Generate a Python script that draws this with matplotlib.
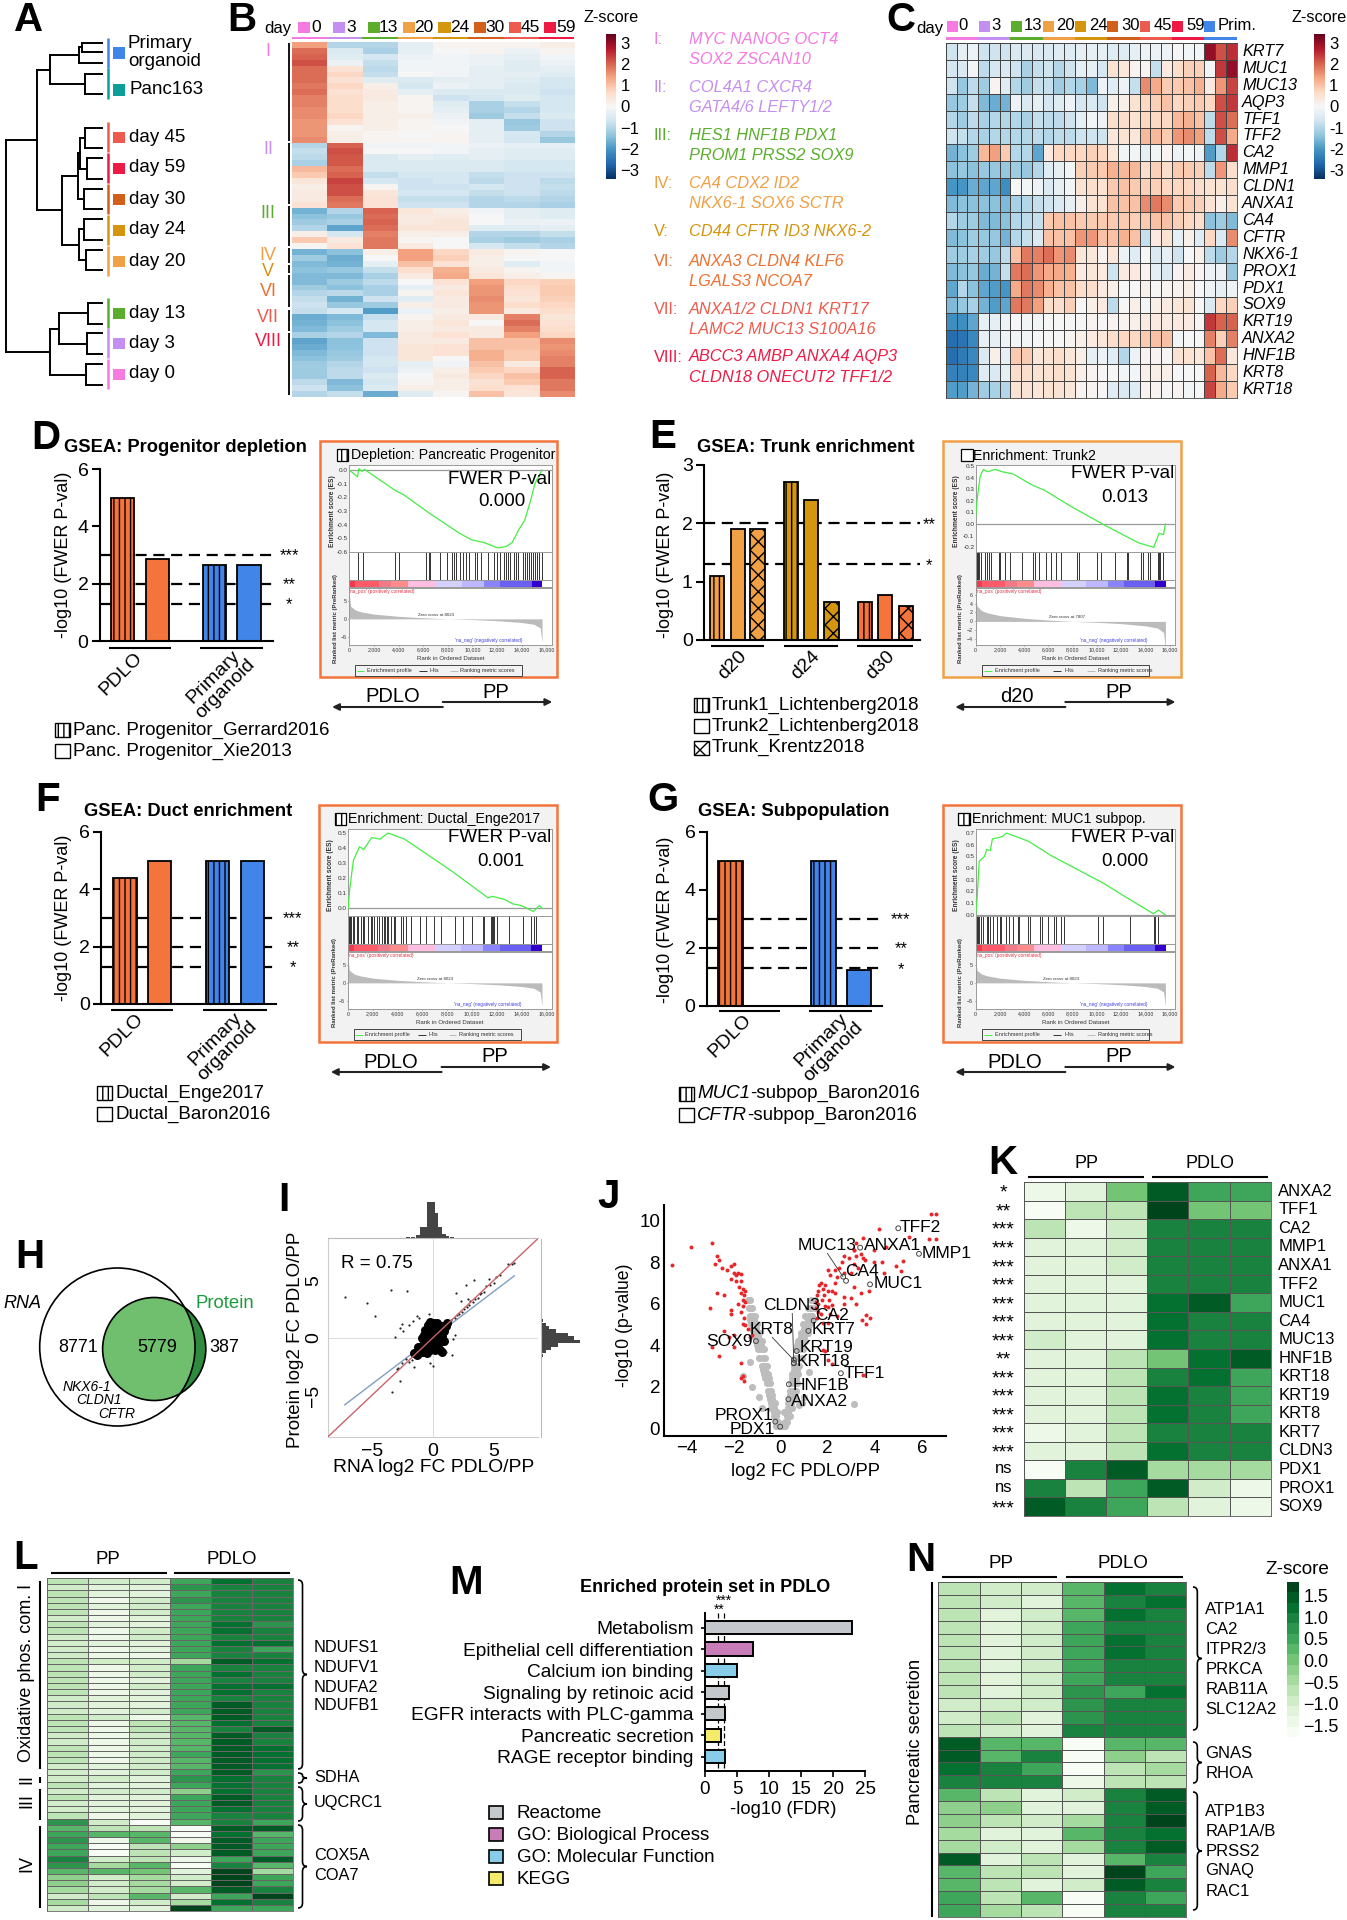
import numpy as np
import matplotlib
matplotlib.use('Agg')
import matplotlib.pyplot as plt
from matplotlib.patches import Rectangle, Ellipse, PathPatch
from matplotlib.path import Path

plt.rcParams['font.family'] = ['Liberation Sans', 'DejaVu Sans']
plt.rcParams['hatch.linewidth'] = 1.0

W, H = 1347, 1920

# colours of the conditions
C_DAY = ['#F57BE0', '#C48FF0', '#5BAD2E', '#F0A045', '#D4950F', '#D2601A', '#EC5B4E', '#EE1A45']
C_PRIM = '#4285E8'
C_PANC = '#0E9E9A'
C_ORANGE = '#F4743B'
DAY_NAMES = ['0', '3', '13', '20', '24', '30', '45', '59']

# panel A: dendrogram
leaf_pos = [43, 51.7, 63.3, 74, 94.3, 127.7, 148.3, 158.3, 179, 189, 209.3, 219, 239.7, 250, 270,
            302.7, 323.7, 333.3, 354.3, 364, 385]
tree = (5,
        (30,
         (40.7, (64, (66.7, 0, 1), 2), (69.3, 3, 4)),
         (50.7,
          (63.3, (65, (69.3, 5, 6), (71, 7, 8)), (68.3, 9, 10)),
          (64.3, (68.3, 11, 12), (70, 13, 14)))),
        (40.7, (47.7, (71.7, 15, 16), (71, 17, 18)), (70, 19, 20)))
a_names = ['day 45', 'day 59', 'day 30', 'day 24', 'day 20', 'day 13', 'day 3', 'day 0']
a_colors = [C_DAY[6], C_DAY[7], C_DAY[5], C_DAY[4], C_DAY[3], C_DAY[2], C_DAY[1], C_DAY[0]]

# panel B: clustered expression, one row per band and one column per day
b_clusters = ['I', 'II', 'III', 'IV', 'V', 'VI', 'VII', 'VIII']
b_matrix = [
    [1.4, -1, -1, -0.3, 0.1, 0.1, 0.1, 0.2],
    [1.9, -0.5, -1.1, -0.3, 0, 0.1, -0.2, 0.1],
    [2.0, -0.4, -0.6, -0.2, -0.1, -0.2, -0.3, -0.1],
    [2.2, -0.2, -0.8, -0.1, -0.1, -0.2, -0.4, -0.2],
    [1.9, 0.5, -0.9, -0.1, -0.1, -0.3, -0.4, -0.3],
    [1.9, 0.7, -0.8, 0, -0.1, -0.3, -0.3, -0.4],
    [1.9, 0.5, -0.4, -0.5, -0.3, -0.3, -0.4, -0.6],
    [1.8, 0.7, 0.2, -0.6, -0.2, -0.3, -0.5, -0.6],
    [1.9, 0.5, 0.3, -0.3, -0.5, -0.5, -0.5, -0.7],
    [1.7, 0.6, 0.3, 0.1, -0.7, -0.6, -0.4, -0.6],
    [1.7, 0.6, 0.2, 0.1, -0.4, -1.1, -0.8, -0.6],
    [1.6, 0.6, 0.2, 0.1, -0.3, -1.1, -1, -0.6],
    [1.6, 0.7, 0.2, 0.2, -0.2, -1.2, -0.8, -0.5],
    [1.5, 0.5, 0.2, 0.1, -0.1, -0.3, -1.3, -0.7],
    [1.5, 0.1, 0.2, 0.1, 0, -0.3, -1.2, -0.7],
    [1.5, 0.2, 0.1, 0, 0.1, -0.3, -0.6, -1.0],
    [1.6, 0.2, 0.1, 0.1, 0.1, -0.3, -0.6, -1.3],
    [-1, 2, -0.1, -0.1, -0.1, -0.2, -0.3, -0.3],
    [-0.8, 2.2, 0, 0, -0.1, -0.3, -0.4, -0.4],
    [-0.9, 2.1, -0.5, -0.3, -0.4, -0.3, -0.4, -0.4],
    [-1.1, 2.1, -0.5, -0.5, -0.5, -0.5, -0.6, -0.6],
    [1.1, 1.9, -0.5, -0.5, -0.5, -0.5, -0.6, -0.6],
    [0.9, 2, -0.8, -0.6, -0.6, -0.8, -0.7, -0.7],
    [0.4, 2.3, -0.6, -0.7, -0.6, -0.9, -0.7, -0.9],
    [0.2, 2.2, 0.1, -0.7, -0.7, -0.6, -0.7, -0.8],
    [0.3, 2.2, 0.4, -0.6, -0.6, -0.8, -0.7, -0.9],
    [0.3, 1.9, 0.5, -0.8, -0.8, -1.0, -0.9, -1],
    [0.5, 1.8, 0.5, -0.7, -0.7, -1, -1, -1.1],
    [-1.6, -1, 2, 0.4, 0.2, -0.1, -0.3, -0.4],
    [-1.4, -1.3, 1.9, 0.3, 0.3, 0, -0.3, -0.4],
    [-1.2, -1.1, 2, 0.3, 0.4, 0, -0.2, -0.2],
    [-1, -1.8, 1.9, 0.4, 0.4, -0.4, -0.4, -0.3],
    [0.2, -0.6, 1.7, 0.2, 0.2, -1, -1, -0.8],
    [0.9, 0.3, 1.8, 0.1, 0, -1.1, -1.2, -1.1],
    [0.1, 0.5, 1.8, 0.3, 0, -0.6, -0.8, -1],
    [-1.6, -1.4, 0.2, 1.4, 0.7, 0.3, 0.1, 0],
    [-1.2, -1.7, 0, 1.4, 0.8, 0.2, 0, 0],
    [-1.5, -1.6, -0.3, 1.0, 0.5, 0.2, -0.4, -0.1],
    [-1.4, -1.3, -0.8, 0.6, 1.2, 0.3, 0.1, -0.1],
    [-1.5, -1.5, -1.1, 0.3, 1.3, 0.4, 0.2, 0.1],
    [-1.5, -1.2, -0.9, 0, 0.5, 1.4, 0.7, 0.8],
    [-1.2, -1.4, -1.1, -0.3, 0.3, 1.5, 0.6, 0.9],
    [-1, -0.9, -1.1, 0.1, 0.4, 1.5, 0.5, 0.9],
    [-0.8, -1.6, -0.7, -0.4, 0.3, 1.6, 0.4, 0.8],
    [-0.7, -1.3, -1.2, 0.2, 0.3, 1.5, 0.6, 0.7],
    [-0.8, -0.6, -1.9, -0.2, 0.2, 1.5, 0.3, 0.6],
    [-1.7, -1.5, -0.8, 0.1, 0.3, 0.3, 1.7, 0.4],
    [-1.6, -1.4, -0.6, 0.2, 0.4, 0, 1.9, 0.5],
    [-1.5, -1.2, -0.6, 0.2, 0.3, 0.3, 1.7, 0.6],
    [-1.1, -1, -1.5, 0.3, 0.5, 0.3, 1.4, 0.7],
    [-1.8, -1.4, -0.7, 0.3, 0.3, 1, 1, 1.6],
    [-1.7, -1.4, -0.7, 0.4, 0.5, 1, 1, 1.5],
    [-1.5, -1.3, -0.7, 0.4, 0.5, 1.2, 0.9, 1.6],
    [-1.4, -1.2, -0.6, 0.4, 0, 1.2, 0.9, 1.7],
    [-1.2, -1, -0.6, -0.3, -0.1, 1, 0.3, 1.7],
    [-1.2, -0.9, -0.7, -0.2, 0.2, 0.9, 0.7, 2],
    [-1.2, -0.9, -0.5, 0, 0.3, 0.7, 1, 2],
    [-0.9, -1.5, -0.6, 0.1, 0.2, 0.5, 0.9, 1.8],
    [-0.7, -1.4, -0.5, 0.2, 0.2, 0.6, 0.5, 1.8],
    [-1, -0.8, -1.7, -0.4, 0.1, 1, 0.4, 1.6],
]
gene_sets = [
    ['MYC NANOG OCT4', 'SOX2 ZSCAN10'],
    ['COL4A1 CXCR4', 'GATA4/6 LEFTY1/2'],
    ['HES1 HNF1B PDX1', 'PROM1 PRSS2 SOX9'],
    ['CA4 CDX2 ID2', 'NKX6-1 SOX6 SCTR'],
    ['CD44 CFTR ID3 NKX6-2'],
    ['ANXA3 CLDN4 KLF6', 'LGALS3 NCOA7'],
    ['ANXA1/2 CLDN1 KRT17', 'LAMC2 MUC13 S100A16'],
    ['ABCC3 AMBP ANXA4 AQP3', 'CLDN18 ONECUT2 TFF1/2'],
]
set_colors = [C_DAY[0], C_DAY[1], C_DAY[2], C_DAY[3], C_DAY[4], '#EE7030', C_DAY[6], C_DAY[7]]

# panel C
c_genes = ['KRT7', 'MUC1', 'MUC13', 'AQP3', 'TFF1', 'TFF2', 'CA2', 'MMP1', 'CLDN1', 'ANXA1', 'CA4',
           'CFTR', 'NKX6-1', 'PROX1', 'PDX1', 'SOX9', 'KRT19', 'ANXA2', 'HNF1B', 'KRT8', 'KRT18']
c_matrix = [
    [-0.7, -0.3, -0.2, -0.7, -0.7, -0.7, -0.5, -0.5, -0.5, -0.5, -0.4, -0.4, -0.3, -0.3, -0.3, -0.4, -0.4, -0.3, -0.2, -0.2, -0.2, 0, -0.1, -0.1, 3, 2.2, 2.5],
    [-0.6, -0.5, -0.1, -0.9, -0.6, -0.5, -0.7, -1.1, -0.8, -0.7, -1, -0.7, -0.3, -0.3, -0.6, 0.5, 0.4, 0.1, 0.1, -0.8, 0.3, 0.6, 0.8, 0.8, -0.1, 2.4, 3],
    [-0.7, -1.3, -0.9, -1.2, 0.1, -0.4, -1, -1.2, -0.8, -0.8, -1.2, -1, -1.1, -1.5, -0.2, -0.4, -0.2, -0.8, 1.6, 1.3, 0.9, 0.9, 1, 1.2, 0.3, 1.5, 2.3],
    [-1.3, -1.2, -0.8, -1.5, -1.7, -1.6, -0.2, -0.5, -0.3, -0.6, -0.4, -0.2, -0.6, -0.5, -0.7, 0.2, 0.2, 0.5, 0.7, 0.8, 1, 0.7, 0.8, 0.9, 0.7, 2.2, 2.4],
    [-1, -1.2, -0.9, -1.1, -1, -1, -1, -1.1, -0.8, -0.9, -0.9, -0.7, -0.3, -0.1, -0.2, 0.6, 0.6, 0.5, 0.7, 0.7, 0.7, 1.1, 1.2, 1, -0.9, 2.2, 1.9],
    [-0.7, -0.8, -1, -1.1, -1, -1, -1, -1, -0.9, -1, -0.9, -0.9, -0.7, -0.7, -0.7, 0.4, 0.5, 0.4, 1.1, 1.1, 0.9, 1.5, 1.6, 1.4, -0.9, 2.2, 1.3],
    [-1.6, -1.4, -1.2, 1.1, 1.4, 0.9, -1, -1, -1.8, 0.3, 0.7, 0.7, 0.7, 0.8, 0.7, 0.4, -0.1, -0.1, -0.3, -0.1, 0.1, -0.2, -0.1, -0.2, -1.9, -1, 2.5],
    [-1.4, -1.3, -1.4, -1.3, -1.3, -1.3, -1.2, -1.3, -1, -0.4, -0.3, -0.1, 0.8, 0.9, 0.9, 1.2, 1.1, 1.1, 0.6, 0.8, 0.6, 0.9, 0.9, 0.8, -0.9, 1.5, 0.6],
    [-2, -2, -1.7, -1.8, -1.8, -2.1, 0, -0.1, -0.2, -0.5, -0.3, -0.1, 0.5, 0.6, 0.5, 0.9, 1, 0.9, 0.8, 0.8, 0.7, 0.7, 0.7, 0.6, 0.5, 0.5, 0.6],
    [-1.5, -1.4, -1.4, -1.4, -1.4, -1.5, -1.1, -1, -0.8, -0.7, -0.5, -0.3, 0.2, 0.5, 0.5, 1, 1, 1, 1.6, 1.8, 1.6, 0.9, 0.9, 0.8, 0.5, 0.2, 0.5],
    [-1, -1.2, -1.2, -1.5, -1.5, -1.4, -1, -0.9, -0.8, 0.9, 1, 1, 0.9, 0.9, 0.9, 0.9, 0.9, 0.8, 0.9, 1, 1, 0.8, 0.7, 0.6, -1.4, -1.2, -1.5],
    [-1.5, -1.4, -1.2, -1.3, -1.3, -1.6, -1, -0.8, -0.5, 1, 1, 1, 1.5, 1.5, 1, 1, 1.2, 1, -0.8, 0.3, 0.5, -0.3, 0.2, -0.4, 0.7, -0.5, 1.6],
    [-1.2, -1.2, -1.1, -1.2, -1.3, -0.9, 1, 1.8, 1.7, 1.9, 1.5, 1.6, 0.4, 0.4, 0.1, 0.4, -0.2, -0.4, 0, -0.5, -0.3, -0.7, 0, 0.2, -0.9, -1.2, -1],
    [-1.5, -1.4, -1.3, -1.7, -1.6, -0.8, 1.8, 1.9, 1.5, 1.3, 1.3, 1.2, 0.3, 0.4, 0.3, -0.7, 0.3, 0.3, 0.1, -0.3, -0.5, 0.1, 0.3, 0.1, -0.2, -0.2, -1.3],
    [-1.8, -1, -1.4, -1.8, -1.9, -2, 1.3, 1.8, 1.6, 1.2, 1, 1, 0.6, 0.6, 0.3, 0.2, 0, 0, 0.2, 0, 0.1, 0.1, 0.2, 0, -0.2, -0.3, -0.2],
    [-1.5, -1.3, -1.1, -1.6, -1.9, -1.8, 1.8, 1.8, 1.4, 0.6, 0.6, 0.8, 0, 0.2, 0.3, -0.9, 0, 0.2, -0.1, 0.2, 0.3, 0.4, 0.5, 0, -0.5, 0.7, 0.8],
    [-2.1, -2.1, -1.8, -0.3, -0.3, -0.2, 0, -0.1, -0.1, 0, 0, 0, 0, 0.1, 0, 0.1, 0.1, 0.2, 0.3, 0.3, 0.3, 0.3, 0.3, 0.1, 2.4, 2, 2],
    [-2.6, -2.5, -2.2, -0.3, -0.3, -0.2, -0.1, -0.1, 0, 0, 0, 0.1, 0.2, 0.3, 0.4, 0.6, 0.7, 0.7, 0.9, 1, 1, -0.1, 0, 0, 1.7, 0.8, 1.7],
    [-2.6, -2.4, -2.2, -0.5, 0.2, -0.3, 0.9, 0.9, 0.4, 0.5, 0.6, 0.4, 0.2, -0.3, -0.2, -0.4, -1, -0.2, 0.1, 0.1, 0, 0.5, 0.5, 0.4, 1, 1.9, 0.4],
    [-2.3, -2.3, -2.2, -0.4, -0.5, -0.3, 0.6, 0.6, 0.5, 0.5, 0.6, 0.5, 0.2, 0.1, 0, 0, -0.1, -0.1, 0.2, 0.2, 0.2, 0, 0, 0, 2, 1.1, 0.7],
    [-1.9, -1.9, -1.6, -1.2, -1.1, -1, 0.5, 0.5, 0.4, 0.5, 0.5, 0.4, 0.1, 0.1, 0, -0.4, -0.5, -0.4, 0.1, 0.1, 0, 0.1, -0.1, 0, 2.3, 1.3, 0.9],
]

# panels D-G: bars
d_vals = [5, 2.85, 2.65, 2.65]
e_vals = [1.1, 1.9, 1.9, 2.7, 2.4, 0.65, 0.65, 0.77, 0.58]
f_vals = [4.4, 5, 5, 5]
g_vals = [5, 0, 5, 1.25]

# GSEA running enrichment curves, hits and ranked metric
d_rank = [0, 667, 767, 1033, 1233, 3733, 4400, 6567, 8900, 9900, 10900, 12067, 12733, 13233, 13733, 14233, 14733, 15067, 15633]
d_es = [0, -.05, .01, -.01, .005, -.15, -.18, -.32, -.46, -.51, -.53, -.57, -.56, -.53, -.44, -.37, -.22, -.10, 0]
d_hits = [670, 1130, 3730, 4070, 6230, 6430, 6570, 7330, 7900, 8330, 8500, 8670, 8970, 9230, 9500, 9730, 10230, 10400, 10730,
          11230, 11730, 11970, 12230, 12570, 12730, 12900, 13070, 13400, 13570, 13730, 14070, 14230, 14400, 14570, 14730,
          14900, 15070, 15230, 15400, 15630]
e_rank = [0, 110, 370, 630, 990, 1580, 2200, 3110, 4580, 5690, 7890, 10650, 12490, 13400, 14690, 15130, 15500, 15650]
e_es = [.06, .2, .41, .47, .45, .47, .45, .43, .34, .29, .15, -.01, -.11, -.16, -.2, -.08, -.09, 0]
e_hits = [40, 80, 120, 160, 200, 260, 400, 760, 960, 1100, 1300, 1900, 2000, 2400, 2800, 3800, 4700, 4900, 5200, 5800, 6200,
          6600, 7000, 8400, 8500, 10000, 10300, 11500, 12500, 12600, 13600, 13800, 14200, 14400, 15000, 15100, 15200, 15450]
f_rank = [0, 130, 430, 930, 1250, 1900, 2570, 3230, 4550, 6360, 8500, 11300, 11650, 12640, 13300, 13960, 14950, 15440, 15670]
f_es = [0, .13, .32, .41, .39, .47, .46, .5, .46, .36, .24, .07, .08, .06, .03, .02, -.02, .02, 0]
f_hits = [60, 120, 190, 250, 360, 500, 700, 800, 1030, 1200, 1300, 1600, 1850, 1950, 2100, 2300, 2500, 2700, 2900, 3000, 3150,
          3250, 3500, 3700, 3800, 4250, 4450, 4700, 5100, 5800, 6300, 6900, 7500, 8600, 9300, 10000, 10900, 11000, 11500,
          11600, 11700, 11800, 12000, 13000, 14100, 14800, 15000, 15150]
g_rank = [0, 110, 290, 730, 910, 1200, 1380, 1820, 2180, 2550, 4360, 6180, 8360, 10550, 12730, 14660, 15090, 15640]
g_es = [0, .12, .46, .5, .56, .55, .65, .66, .67, .7, .63, .51, .39, .27, .13, .01, .04, 0]
g_hits = [80, 130, 200, 300, 400, 600, 900, 1050, 1150, 1400, 1800, 2000, 2100, 2500, 2750, 3100, 3500, 3600, 4300, 4500, 5300,
          5500, 6000, 6500, 6600, 7000, 7300, 10100, 10500, 12700, 14700, 14800, 15000]
metric_rank = [0, 100, 500, 1000, 2000, 4000, 6000, 8023, 10000, 12000, 14000, 15000, 15500, 15650]
metric_vals = [7, 3.5, 2.4, 1.9, 1.3, .7, .3, 0, -.2, -.5, -1, -1.5, -2.5, -6.5]
strip_edges = [0, 500, 2400, 3400, 4800, 7000, 9130, 10900, 12230, 14800, 15660]
strip_colors = ['#EF3B4B', '#FF5A6A', '#F0798A', '#FF8C8C', '#FFBDE0', '#D4D0FF', '#BDB8FF', '#8A85FF', '#6A5FF0', '#3300CC']

# panel I
blob_x = [-1.0, -0.8, -0.6, -0.8, -0.5, -0.2, -0.3, 0, 0.2, 0.3, 0.6, 0.8, 0.5, -0.6, -0.9, -0.3, 0, 0.3, 0.6, 0.9, -0.7, -0.4,
          -0.1, 0.2, 0.5, 0.8, -0.6, -0.3, 0, 0.3, 0.6, 0.9, -0.4, -0.1, 0.2, 0.5, 0.8, -0.2, 0.1, 0.4, -0.5, -1.2, -1.5, -1.3, -1.1, 1.1, 1.2]
blob_y = [-1.0, -1.2, -1.1, -0.6, -0.7, -1.0, -0.5, -0.8, -1.0, -0.6, -1, -1.2, -0.4, -0.2, 0, -0.1, -0.2, -0.1, 0, -0.3, 0.3, 0.3,
          0.2, 0.2, 0.3, 0.2, 0.7, 0.7, 0.6, 0.6, 0.7, 0.6, 1.1, 1.0, 1.0, 1, 1, 1.4, 1.3, 1.3, -1.3, -0.8, -1.3, -1.5, -1.3, 1.0, 1.3]
sparse_x = [-7.2, -3.4, -2.1, -5.4, -4.7, 3.4, 1.9, 2.7, -1.3, -1.1, -0.3, -2.5, -2.4, -3.1, -2.7, -1.9, -1.6, 1.1, 1.6, 1.7, 1.8, 0,
            -.2, -3.3, -2.7, -2.8, -2.5, -1.9, -1.5, -1.7, -2.2, -2.9, 1.5, 1.8, 2, 2.2, 2.4, 2.6, 2.8, 3, 3.1, 3.3, 3.5, 3.7, 3.9,
            4, 4.2, 4.4, 4.7, 5, 5.2, 5.5, 6.2, 6.5, 6.7, 2.3, 2.9, 4.6]
sparse_y = [3.6, 4.2, 4.05, 3, 1.95, 5.0, 3.9, 4.6, 1.9, 1.7, 2.1, 1.2, 0.6, 0.1, .9, 1.1, 1.5, -1.2, -1.5, -.1, .3, -2.4,
            -2.2, -4.7, -3.7, -2.6, -2.2, -2.1, -2.5, -1.9, -1.8, -2.7, 1.6, 1.7, 2, 2.1, 2.3, 2.5, 2.7, 2.9, 3.2, 3.1, 3.4, 3.5, 3.8,
            3.9, 4, 4.5, 4.6, 4.8, 5.3, 5.5, 6.4, 6.4, 6.5, 3.2, 3.4, 5.1]
fit_x = [-7.2, 6.7]
fit_y = [-5.8, 5.4]
top_bins = [-2, -1.6, -1.2, -0.9, -0.6, -0.3, 0, 0.3, 0.6, 0.9, 1.2, 1.6, 2]
top_counts = [2, 4, 8, 30, 30, 100, 100, 70, 30, 10, 5, 3, 1]
right_bins = [1.5, 1.2, 0.9, 0.6, 0.3, 0, -0.3, -0.6, -0.9, -1.2, -1.5, -1.8]
right_counts = [5, 12, 22, 40, 70, 85, 100, 45, 25, 12, 6, 3]

# panel J
gray_x = [-.1, .1, .05, -.2, .2, -.2, -.1, .2, .25, -.3, -.2, .25, .35, .4, -.4, -.3, .3, .4, .5, -.45, -.35, .35, .45, .6,
          -.55, -.4, .4, .5, .65, -.6, -.45, .45, .55, .7, -.7, -.55, .5, .6, .75, -.8, -.6, -.7, .55, .65, .8,
          -.9, -.65, -.75, .6, .75, .9, -.95, -.7, -.85, .65, .8, .95, -1.05, -.8, -.95, .75, .9, 1.05,
          -1.15, -.9, -1.0, .85, 1.0, 1.15, -1.25, -1.0, -1.1, .95, 1.1, 1.25, -1.3, -1.1, -1.2, 1.05, 1.2, 1.35,
          -1.35, -1.2, 1.15, 1.3, 1.45, -1.4, -1.3, 1.3, 1.45,
          -.3, -.15, .15, .3, -.4, -.25, .3, .45, -.5, -.35, .4, .55, -.65, -.5, .5, .65, -.75, -.65, .55, .7,
          -1.0, -.85, .7, .85, -1.1, -.95, .85, 1.0, -1.2, -1.05, 1.0, 1.15, -1.3, -1.15, 1.15, 1.3,
          -1.6, -1.3, -1.2, -.9, -.8, .8, 1, 3.1, 1.2, .9]
gray_y = [.1, .1, .1, .1, .1, .3, .3, .3, .3, .6, .6, .6, .6, .6, 1, 1, 1, 1, 1, 1.4, 1.4, 1.4, 1.4, 1.4,
          1.8, 1.8, 1.8, 1.8, 1.8, 2.2, 2.2, 2.2, 2.2, 2.2, 2.6, 2.6, 2.6, 2.6, 2.6, 3, 3, 3, 3, 3, 3,
          3.4, 3.4, 3.4, 3.4, 3.4, 3.4, 3.8, 3.8, 3.8, 3.8, 3.8, 3.8, 4.2, 4.2, 4.2, 4.2, 4.2, 4.2,
          4.6, 4.6, 4.6, 4.6, 4.6, 4.6, 5, 5, 5, 5, 5, 5, 5.4, 5.4, 5.4, 5.4, 5.4, 5.4,
          5.8, 5.8, 5.8, 5.8, 5.8, 6.2, 6.2, 6.2, 6.2,
          .8, .8, .8, .8, 1.2, 1.2, 1.2, 1.2, 1.6, 1.6, 1.6, 1.6, 2.4, 2.4, 2.4, 2.4, 2.8, 2.8, 2.8, 2.8,
          4, 4, 4, 4, 4.4, 4.4, 4.4, 4.4, 4.8, 4.8, 4.8, 4.8, 5.2, 5.2, 5.2, 5.2,
          2.5, 3.2, 2, 1.5, 1, 1.1, 1.5, 1.15, 2.7, 1.2]
red_x = [-4.6, -3.8, -2.9, -2.7, -2.6, -2.8, -2.5, -2.3, -2.1, -2, -2, -1.9, -1.8, -1.7, -2.1, -1.9, -1.7, -1.75, -1.6, -1.7, -1.55,
         -1.5, -1.6, -1.5, -2.4, -2.7, -1.8, -3.0, -2.1, -1.7, -1.6, -2.1, -1.55, -1.5, -1.6, -2, -2.4, -1.2, -2.9, -2, -1.7, -2.6,
         -1.7, -1.6, -1.55, -1.4, -1.3, -2.2,
         1.5, 1.55, 1.6, 1.65, 1.7, 1.8, 1.85, 1.9, 2, 1.75, 1.5, 1.6, 1.55, 1.7, 1.9, 2.05, 2.2, 2.3, 2.4, 2.1, 2, 2.3, 2.5, 2.7, 2.6,
         2.7, 2.9, 3.1, 3.0, 3.3, 3.4, 3.5, 3.6, 3.1, 3.2, 4.2, 5.45, 6.4, 6.6, 6.3, 6.6, 5.2, 4.9, 4.3, 3.95, 3.5, 3.1, 3.2, 3.95,
         4.5, 5.1, 4.4, 3.1, 3.75, 3.4, 3, 2.7, 2.7, 2.3, 2, 2.2, 3.2, 2.4, 3.65, 3.8, 3.45, 3.65, 1.8, 2, 2.1, 1.8, 1.9, 2, 2.2, 3.5, 1.6]
red_y = [7.85, 8.75, 8.9, 8.3, 8.1, 7.9, 7.7, 7.6, 7.8, 7.9, 7.5, 7.4, 7.5, 7.45, 7.2, 7.1, 7.1, 6.8, 6.7, 6.5, 6.4,
         6.6, 6.2, 6.1, 6.4, 6.5, 6.0, 5.8, 5.7, 5.6, 5.9, 5.5, 5.3, 4.95, 5, 4.5, 4.7, 4.5, 3.9, 3.9, 3.15, 3.5,
         2.4, 2.5, 2.3, 4.8, 4.4, 4.4,
         6.1, 6.4, 6.6, 6.9, 7, 6.7, 6.4, 6.9, 6.6, 6.2, 5.8, 5.6, 5.3, 5.5, 5.9, 6.2, 6.6, 7, 7.3, 7.4, 7.6, 7.6, 7.7, 7.5, 8,
         8.3, 8.2, 7.9, 7.5, 7.7, 8.4, 8.2, 8.1, 8.6, 8.9, 9.58, 9.2, 10.3, 10.3, 9.1, 9.1, 8.05, 7.8, 8, 8, 9.15, 8.6, 8.3, 8.6,
         8.75, 7.55, 7.5, 6.8, 6.6, 6.5, 6.25, 6, 6.3, 6.5, 5.85, 5.95, 6, 5.4, 5.45, 5.3, 5.2, 5, 5.05, 5.05, 5.5, 3.75, 3.7, 3.3, 3.1, 2.55, 6]
lab_x = [5.0, 3.38, 5.88, 2.66, 2.78, 3.8, 0.56, 1.4, 1.18, .56, .68, .56, 2.56, .35, .33, -.23, -.02, -1.05]
lab_y = [9.63, 8.7, 8.4, 7.3, 7.1, 6.93, 3.13, 5.18, 4.69, 3.15, 3.72, 3.29, 2.65, 2.12, 1.4, .32, .08, 4.2]

# panel K
k_genes = ['ANXA2', 'TFF1', 'CA2', 'MMP1', 'ANXA1', 'TFF2', 'MUC1', 'CA4', 'MUC13', 'HNF1B', 'KRT18', 'KRT19', 'KRT8', 'KRT7',
           'CLDN3', 'PDX1', 'PROX1', 'SOX9']
k_sig = ['*', '**', '***', '***', '***', '***', '***', '***', '***', '**', '***', '***', '***', '***', '***', 'ns', 'ns', '***']
k_matrix = [
    [-1.5, -1.1, 0.0, 1.4, 0.6, 0.6], [-1.7, -.7, -.7, 1.9, .1, .1], [-.8, -1.5, -1, 1, 1, .9],
    [-1.2, -1.1, -.95, 1, 1, .9], [-1.1, -1.1, -.95, 1, 1, 1], [-1.1, -1.1, -1.1, 1, .9, 1],
    [-1.1, -1.1, -1.1, 1.3, 1.4, .6], [-1.1, -1.1, -1.1, 1.3, .9, .9], [-.95, -1.1, -1.1, 1.3, 1, .9],
    [-1.2, -1.1, -.6, .1, 1.3, 1.4], [-1.2, -1.1, -.6, 1, 1.3, .6], [-1.2, -1.1, -.6, 1.3, 1, .6],
    [-1.2, -1.2, -.6, 1.3, 1, .6], [-1.4, -1.1, -.6, .9, 1, .9], [-1.2, -1.1, -.8, 1.3, .9, .9],
    [-1.7, .9, 1.5, -.4, -.4, -.4], [.9, -.7, .6, 1.5, -.95, -1.5], [1.4, 1, .6, -.6, -1.1, -1.4],
]

# panel L
l_matrix = [
    [-.75, -1.0, -1.0, .6, 1.25, 1.1], [-.85, -1.1, -1.1, .65, 1.05, 1.0], [-.7, -1.15, -1.15, .55, 1.05, 1.1],
    [-.75, -1.35, -1.0, .65, 1.0, 1.1], [-.7, -1.2, -.95, .6, 1.05, 1.05], [-.6, -1.4, -1.05, .6, 1.05, 1.05],
    [-1, -1.35, -1.1, .6, 1.1, 1.1], [-.6, -1.2, -1.15, .6, 1.3, .65], [-.8, -1.45, -1, .6, 1.3, 1.05],
    [-.85, -1.35, -.95, .6, 1.1, 1.05], [-.85, -1.25, -1.25, .55, 1.2, 1.15], [-.9, -1.4, -1.2, .55, 1.1, .6],
    [-.9, -1.3, -1.3, .6, 1.05, .95], [-.75, -1, -1, -.35, 1.55, 1.15], [-.6, -1.45, -1, .6, .95, 1.05],
    [-.65, -1.4, -1.05, .6, 1.3, 1.1], [-.7, -1.3, -1.15, .6, 1.1, 1.0], [-.65, -1.3, -1, .45, 1.25, 1.25],
    [-.75, -1.3, -1.1, .5, 1.2, 1.0], [-.85, -1.2, -1.2, .6, 1.1, 1.05], [-.85, -1.25, -1.1, .4, 1.4, 1.05],
    [-.85, -1.15, -1.05, .45, 1.4, 1.0], [-.7, -.85, -1.3, .3, 1.55, 1.0], [-.75, -1.4, -.8, .3, 1.3, 1.0],
    [-.75, -1.3, -.7, .3, 1.1, 1.4], [-.85, -1.35, -1, .2, 1.4, 1.05], [-.85, -1.3, -1, .15, 1.4, 1.05],
    [-.7, -1.3, -.95, .3, 1.4, 1.2], [-.7, -1.3, -1, .5, 1.4, 1.15], [-.8, -1.3, -.95, .15, 1.4, 1.3],
    [-.85, -1.25, -1, .2, 1.4, 1.3], [-.85, -1.1, -1.05, .4, 1.55, .7], [-.9, -1.05, -1.1, .65, 1.3, .9],
    [-.75, -1.2, -1.1, .6, 1.2, .95], [-1, -.9, -1, -.3, 1.3, 1.0], [-.8, -1.2, -1.1, .55, 1.35, 1.05],
    [-.95, -1.25, -1.1, .55, 1.35, .95], [-.85, -1.25, -1.1, .6, 1.3, .95], [-.8, -1.4, -1.2, .6, 1.1, 1.05],
    [.75, -1, -1.6, .25, 1.0, .6], [.35, -.7, -.7, -1.65, 1.35, 1.4], [.6, .3, .35, -1.65, 1.3, .3],
    [.8, -1.5, .25, -1.4, 1.5, .55], [.4, -1.7, -.65, -.3, 1.5, .5], [.4, -1.7, -.65, -.9, 1.45, .6],
    [1.1, -.95, -.65, -1.3, .55, 1.45], [.75, -.45, .25, -1.7, 1.1, .25], [.2, .3, .1, -1.2, 1.85, -.4],
    [-.1, -.95, -.4, -1, 1.85, .6], [-.3, -.95, -.4, -.95, 1.85, .6], [-.4, -.9, -.5, .3, 1.5, 1.1],
    [-.9, -.7, .2, -.9, .6, 1.75], [-.4, -1.35, -1, -.4, 1.3, 1.1], [-.95, -1.2, -1.1, 1.8, .6, .6],
]

# panel M
m_terms = ['Metabolism', 'Epithelial cell differentiation', 'Calcium ion binding', 'Signaling by retinoic acid',
           'EGFR interacts with PLC-gamma', 'Pancreatic secretion', 'RAGE receptor binding']
m_vals = [23, 7.5, 5, 3.7, 3.2, 2.5, 3.1]
m_sources = ['Reactome', 'GO: Biological Process', 'GO: Molecular Function', 'KEGG']
m_source_colors = ['#C4C8CC', '#C97DB8', '#87CCE8', '#F5EB6B']
m_term_source = [0, 1, 2, 0, 0, 3, 2]

# panel N
n_matrix = [
    [-.75, -1.05, -.95, .15, 1.3, 1.0], [-.8, -.95, -1.1, .2, 1.0, 1.3], [-.75, -1.1, -1.05, .2, 1.3, .95],
    [-.8, -1.1, -1.05, .5, 1.0, 1.0], [-.65, -1.2, -1.05, .5, 1.3, .9], [-.8, -1.1, -1.05, .5, 1.3, 1.0],
    [-.75, -1.1, -1.05, .5, 1.0, 1.0], [-.6, -1.1, -1.05, .5, .9, 1.0], [-.8, -1.2, -.95, .85, .5, 1.3],
    [-.95, -.95, -1.05, .85, 1.0, .9], [-.95, -.75, -1.2, .85, 1.0, .95], [-.8, -.95, -1.2, .9, .9, 1.0],
    [1.35, .2, .2, -1.7, .2, .2], [1.4, .15, .95, -1.6, -.3, -.6], [1.3, .9, .55, -1.6, -.8, -.4],
    [.95, 1.1, .95, -1.5, -.6, -.8], [.2, -.65, -1.15, -.95, .95, 1.4], [-.3, -.3, -1.1, -1.1, .9, 1.4],
    [-.3, -.75, -1.05, -.4, .9, 1.75], [-.5, -1.1, -1.2, .2, 1.0, 1.3], [-.4, -.95, -1.1, -.35, 1.0, 1.4],
    [1.4, -1.1, -.8, -1.1, .2, .95], [.2, -.8, -.65, -1.25, 1.85, .5], [.2, -.8, -1.1, -.95, 1.45, .9],
    [.5, -.65, .15, -1.7, 1.0, .5], [.5, -.35, -.6, -1.6, .9, 1.0],
]

fig = plt.figure(figsize=(W / 100, H / 100), dpi=100)
fig.patch.set_facecolor('white')

# each region of the figure is laid out on its own horizontal scale
zone_x0, zone_f = 0.0, 1.0


def zone(x0, f):
    global zone_x0, zone_f
    zone_x0, zone_f = x0, f


def fx(x):
    return zone_x0 + (x - zone_x0) * zone_f


def axpx(x0, y0, x1, y1, **kw):
    x0, x1 = fx(x0), fx(x1)
    return fig.add_axes([x0 / W, 1 - y1 / H, (x1 - x0) / W, (y1 - y0) / H], **kw)


bg = axpx(0, 0, W, H, zorder=-1)
ov = axpx(0, 0, W, H, zorder=10)
for a in (bg, ov):
    a.set_xlim(0, W)
    a.set_ylim(H, 0)
    a.axis('off')
    a.patch.set_alpha(0)


def t(x, y, s, size=11, ha='left', va='center', **kw):
    return ov.text(fx(x), y, s, fontsize=size, ha=ha, va=va, **kw)


def line(xs, ys, color='k', lw=1.5, **kw):
    ov.plot([fx(v) for v in xs], ys, color=color, lw=lw, solid_capstyle='butt', **kw)


def square(x0, y0, x1, y1, color='white', hatch=None, ec='none', lw=1.0):
    ov.add_patch(Rectangle((fx(x0), y0), fx(x1) - fx(x0), y1 - y0, facecolor=color, edgecolor=ec, hatch=hatch, lw=lw))


def brace(x, y0, y1, w=8, lw=1.2):
    x = fx(x)
    w = w * zone_f
    ym = (y0 + y1) / 2
    r = min(5, (y1 - y0) / 4)
    verts = [(x, y0), (x + w * .5, y0), (x + w * .5, y0 + r), (x + w * .5, ym - r), (x + w * .5, ym), (x + w, ym),
             (x + w * .5, ym), (x + w * .5, ym + r), (x + w * .5, y1 - r), (x + w * .5, y1), (x, y1)]
    codes = [Path.MOVETO, Path.CURVE3, Path.CURVE3, Path.LINETO, Path.CURVE3, Path.CURVE3,
             Path.CURVE3, Path.CURVE3, Path.LINETO, Path.CURVE3, Path.CURVE3]
    ov.add_patch(PathPatch(Path(verts, codes), fc='none', ec='k', lw=lw))


def panel_letter(x, y, s):
    t(x, y, s, size=29, ha='center', fontweight='bold')


def heat(rect, data, cmap, vmin, vmax, edge='none', lw=0.0):
    ax = axpx(*rect)
    ax.pcolormesh(np.array(data), cmap=cmap, vmin=vmin, vmax=vmax, edgecolors=edge, linewidth=lw)
    ax.invert_yaxis()
    ax.set_xticks([])
    ax.set_yticks([])
    for s in ax.spines.values():
        s.set_linewidth(0.6)
        s.set_color(edge if edge != 'none' else '#888888')
    return ax


def colorbar(rect, cmap, vmin, vmax, ticks, labels, size=11):
    cax = axpx(*rect)
    sm = plt.cm.ScalarMappable(norm=plt.Normalize(vmin, vmax), cmap=cmap)
    cb = fig.colorbar(sm, cax=cax)
    cb.set_ticks(ticks)
    cb.set_ticklabels(labels, fontsize=size)
    cb.ax.tick_params(length=0, pad=3)
    cb.outline.set_visible(False)


# ---- A
zone(0, 1.23)
panel_letter(23, 20, 'A')
dend = axpx(0, 0, 100, H)
dend.set_xlim(0, 100)
dend.set_ylim(H, 0)
dend.axis('off')


def draw_node(node):
    # node = (height, child, child) and a leaf is an index in leaf_pos
    if isinstance(node, int):
        return 83.3, leaf_pos[node]
    kids = [draw_node(k) for k in node[1:]]
    ys = [k[1] for k in kids]
    for kx, ky in kids:
        dend.plot([node[0], kx], [ky, ky], color='k', lw=1.4, solid_capstyle='projecting')
    dend.plot([node[0], node[0]], [min(ys), max(ys)], color='k', lw=1.4, solid_capstyle='projecting')
    return node[0], sum(ys) / len(ys)


draw_node(tree)
line([88, 88], [38, 68], color=C_PRIM, lw=1.8)
line([88, 88], [68, 99], color=C_PANC, lw=1.8)
square(92, 47, 102, 59, C_PRIM)
square(92, 84, 102, 96, C_PANC)
t(104, 43, 'Primary', 13.5)
t(104, 62, 'organoid', 13.5)
t(105, 90, 'Panc163', 13.5)
a_y = [137, 168, 199, 230, 261, 313, 343, 374]
for name, col, y in zip(a_names, a_colors, a_y):
    line([88, 88], [y - 15.4, y + 15.4], color=col, lw=1.8)
    square(92, y - 5.5, 102, y + 5.5, col)
    t(105, y, name, 13.5)

# ---- B
panel_letter(197, 20, 'B')
ax = axpx(237, 42, 467, 397)
ax.imshow(np.array(b_matrix), cmap='RdBu_r', vmin=-3.4, vmax=3.4, aspect='auto', interpolation='nearest')
ax.axis('off')
t(226, 29, 'day', 12, ha='center')
for i, (name, col) in enumerate(zip(DAY_NAMES, C_DAY)):
    square(242 + 28.6 * i, 22, 252 + 28.6 * i, 33, col)
    t(257 + 28.9 * i + (1 if i > 1 else 0), 27, name, 12.5, ha='center')
    square(237 + 28.75 * i, 37, 237 + 28.75 * (i + 1), 39, col)
t(497, 18, 'Z-score', 11.7, ha='center')
colorbar((493, 34, 501, 179), 'RdBu_r', -3.4, 3.4, [3, 2, 1, 0, -1, -2, -3],
         ['3', '2', '1', '0', '\u22121', '\u22122', '\u22123'], size=12)
roman_y = [51, 150, 213, 256, 272, 291, 317, 341]
seg = [(43, 141), (143, 204), (206, 246), (248, 263), (265, 273), (275, 307), (310, 331), (333, 395)]
for name, col, y, (s0, s1) in zip(b_clusters, set_colors, roman_y, seg):
    t(218, y, name, 13, ha='center', color=col)
    line([235, 235], [s0, s1], lw=1.3)

# ---- gene lists and C
zone(640, 1.359)
set_y = [(39, 59), (88, 108), (136, 156), (184, 204), (232,), (261, 281), (309, 329), (357, 377)]
for name, col, lines_, ys in zip(b_clusters, set_colors, gene_sets, set_y):
    t(650, ys[0], name + ':', 11.8, color=col)
    for s, y in zip(lines_, ys):
        t(676, y, s, 11.8, color=col, style='italic')

panel_letter(832, 20, 'C')
heat((865, 43, 1079, 398), c_matrix, 'RdBu_r', -3.4, 3.4, edge='#444444', lw=0.6)
t(853, 29, 'day', 12, ha='center')
c_cols = C_DAY + [C_PRIM]
for i, col in enumerate(c_cols):
    square(866 + 23.6 * i, 21, 874 + 23.6 * i, 32, col)
    square(865 + 23.78 * i, 37, 865 + 23.78 * (i + 1), 39.5, col)
    if i < 8:
        t(878 + 24 * i + (3 if i > 1 else 0), 26, DAY_NAMES[i], 12, ha='center')
t(1065, 26, 'Prim.', 12)
for i, g in enumerate(c_genes):
    t(1083, 43 + 16.9 * (i + .5), g, 11.7, style='italic')
t(1140, 18, 'Z-score', 11.7, ha='center')
colorbar((1136, 34, 1144, 179), 'RdBu_r', -3.4, 3.4, [3, 2, 1, 0, -1, -2, -3],
         ['3', '2', '1', '0', '-1', '-2', '-3'], size=12)


# ---- D-G
def bar_panel(rect, ymax, ticks, centers, width, vals, colors, hatches, thresh, stars, star_x):
    a = axpx(*rect)
    a.set_xlim(rect[0], rect[2])
    a.set_ylim(0, ymax)
    for y in thresh:
        a.hlines(y, rect[0], rect[2], color='k', lw=1.6, linestyles=(0, (5, 3)), zorder=1)
    a.bar(centers, vals, width=width, color=colors, hatch=hatches, edgecolor='k', linewidth=1.3, zorder=2)
    a.set_yticks(ticks)
    a.set_xticks([])
    a.tick_params(axis='y', labelsize=14, length=6, width=1.5, pad=2)
    for s in ('top', 'right'):
        a.spines[s].set_visible(False)
    for s in ('left', 'bottom'):
        a.spines[s].set_linewidth(1.5)
    for y, s in zip(thresh, stars):
        yy = rect[3] - (rect[3] - rect[1]) * y / ymax
        t(star_x, yy + 1, s, 12, ha='center')


def gsea_inset(x0, y0, x1, y1, edge, title, hatch, sq_x, title_x, fwer_dy, p, p_cx, ranks, es, ylim, yticks, hits,
               zero_x, zero_txt, metric_ylim, metric_ticks):
    bg.add_patch(Rectangle((fx(x0), y0), fx(x1) - fx(x0), y1 - y0, fc='#F2F2F2', ec=edge, lw=1.8))
    xl, xr = x0 + 24, x1 - 4
    a = axpx(xl, y0 + 24, xr, y0 + 111)
    a.plot(ranks, es, color='#44EE44', lw=0.9, zorder=3)
    a.axhline(0, color='#999999', lw=0.9)
    a.set_xlim(0, 16480)
    a.set_ylim(*ylim)
    a.set_yticks(yticks)
    a.set_yticklabels(['%.1f' % v for v in yticks])
    a.set_xticks([])
    a.tick_params(labelsize=4.6, length=0, pad=1, colors='#333333')
    a2 = axpx(xl, y0 + 111, xr, y0 + 139)
    a2.vlines(hits, 0, 1, color='#333333', lw=0.7)
    a2.set_xlim(0, 16480)
    a2.set_ylim(0, 1)
    a2.set_xticks([])
    a2.set_yticks([])
    a3 = axpx(xl, y0 + 139, xr, y0 + 146)
    a3.broken_barh([(strip_edges[i], strip_edges[i + 1] - strip_edges[i]) for i in range(len(strip_colors))], (0, 1),
                   facecolors=strip_colors)
    a3.set_xlim(0, 16480)
    a3.set_ylim(0, 1)
    a3.set_xticks([])
    a3.set_yticks([])
    a4 = axpx(xl, y0 + 147, xr, y0 + 204)
    a4.fill_between(metric_rank, metric_vals, 0, color='#BBBBBB', lw=0)
    a4.set_xlim(0, 16480)
    a4.set_ylim(*metric_ylim)
    a4.set_yticks(metric_ticks)
    a4.set_xticks(range(0, 16001, 2000))
    a4.set_xticklabels(['{:,}'.format(v) for v in range(0, 16001, 2000)])
    a4.tick_params(labelsize=3.8, length=1, width=0.4, pad=1, colors='#333333')
    for b in (a, a2, a3, a4):
        for s in b.spines.values():
            s.set_color('#999999')
            s.set_linewidth(0.7)
    a4.text(1, metric_ylim[1] * .97, "'na_pos' (positively correlated)", fontsize=3.4, color='#E03040', va='top')
    a4.text(0.52, 0.05, "'na_neg' (negatively correlated)", fontsize=3.4, color='#4040E0', transform=a4.transAxes, ha='left')
    a4.text(zero_x, 0.8, zero_txt, fontsize=3.2, color='#333333', ha='center')
    t(xl - 14, y0 + 70, 'Enrichment score (ES)', 4.8, ha='center', rotation=90, fontweight='bold', color='#333333')
    t(xl - 11, y0 + 178, 'Ranked list metric (PreRanked)', 4.3, ha='center', rotation=90, fontweight='bold', color='#333333')
    t((xl + xr) / 2, y0 + 217, 'Rank in Ordered Dataset', 4.4, ha='center', color='#333333')
    lx = x0 + 29
    ov.add_patch(Rectangle((fx(lx), y0 + 224), 0.7 * (x1 - x0) * zone_f, 11, fc='#F2F2F2', ec='#444444', lw=0.7))
    line([lx + 1, lx + 7], [y0 + 229.5] * 2, color='#44EE44', lw=0.7)
    t(lx + 9, y0 + 229.5, 'Enrichment profile', 4, color='#333333')
    line([lx + 52, lx + 58], [y0 + 229.5] * 2, color='#333333', lw=0.7)
    t(lx + 60, y0 + 229.5, 'Hits', 4, color='#333333')
    line([lx + 77, lx + 83], [y0 + 229.5] * 2, color='#BBBBBB', lw=0.7)
    t(lx + 85, y0 + 229.5, 'Ranking metric scores', 4, color='#333333')
    square(sq_x, y0 + 8, sq_x + 9, y0 + 20, 'white', hatch=hatch, ec='k', lw=0.9)
    t(title_x, y0 + 14.5, title, 10.2)
    t(x1 - 5, y0 + fwer_dy, 'FWER P-val', 13.5, ha='right')
    t(p_cx, y0 + fwer_dy + 23, p, 13.5, ha='center')


def arrows(y1, xl, xm, xr, lab_l, lab_lx, lab_rx):
    ov.annotate('', xy=(fx(xl), y1 + 30), xytext=(fx(xm), y1 + 30),
                arrowprops=dict(arrowstyle='-|>', lw=1.5, color='#222222', shrinkA=0, shrinkB=0))
    ov.annotate('', xy=(fx(xr), y1 + 25), xytext=(fx(xm), y1 + 25),
                arrowprops=dict(arrowstyle='-|>', lw=1.5, color='#222222', shrinkA=0, shrinkB=0))
    t(lab_lx, y1 + 20, lab_l, 14.5, ha='center')
    t(lab_rx, y1 + 15, 'PP', 14.5, ha='center')


def ylabel(x, y):
    t(x, y, '-log10 (FWER P-val)', 13, ha='center', rotation=90)


def rotated(x, y, s, size=14):
    t(x, y, s, size, ha='center', rotation=45, linespacing=1.0, multialignment='center')


STARS3 = ['***', '**', '*']
zone(0, 1.23)
panel_letter(37, 438, 'D')
t(52, 447, 'GSEA: Progenitor depletion', 13.2, fontweight='bold')
bar_panel((81, 469, 222, 641), 6, [0, 2, 4, 6], [99.5, 128, 174.5, 202.5], 19, d_vals,
          [C_ORANGE, C_ORANGE, C_PRIM, C_PRIM], ['|||', None, '|||', None], [3, 2, 1.3], STARS3, 235)
ylabel(52, 555)
line([89, 139], [648, 648])
line([163, 214], [648, 648])
rotated(98, 674, 'PDLO')
rotated(178, 683, 'Primary\norganoid')
square(45, 723, 57, 737, 'white', hatch='|||', ec='k', lw=1)
square(45, 744, 57, 758, 'white', ec='k', lw=1)
t(59, 730, 'Panc. Progenitor_Gerrard2016', 13.5)
t(59, 751, 'Panc. Progenitor_Xie2013', 13.5)
gsea_inset(260, 441, 453, 677, C_ORANGE, 'Depletion: Pancreatic Progenitor', '|||', 274, 285, 38, '0.000', 408, d_rank, d_es,
           (-0.6, 0.037), [0, -.1, -.2, -.3, -.4, -.5, -.6], d_hits, 7000, 'Zero cross at 8023', (-7.2, 8.5), [5, 0, -5])
arrows(677, 270, 360, 449, 'PDLO', 319, 403)

zone(640, 1.359)
panel_letter(657, 437, 'E')
t(682, 447, 'GSEA: Trunk enrichment', 13.2, fontweight='bold')
bar_panel((687, 465, 846, 640), 3, [0, 1, 2, 3], [696.5, 712, 726.5, 751, 766, 781, 805.5, 820.5, 835.5], 10.5, e_vals,
          [C_DAY[3]] * 3 + [C_DAY[4]] * 3 + [C_ORANGE] * 3, ['|||', None, 'xx', '|||', None, 'xx', '|||', None, 'xx'],
          [2, 1.3], ['**', '*'], 853)
ylabel(659, 555)
for c0, c1, lab, cx in [(692, 731, 'd20', 708), (746, 786, 'd24', 762), (800, 841, 'd30', 817)]:
    line([c0, c1], [646, 646])
    rotated(cx, 665, lab)
square(680, 698, 691, 712, 'white', hatch='|||', ec='k', lw=1)
square(680, 719, 691, 733, 'white', ec='k', lw=1)
square(680, 741, 691, 755, 'white', hatch='xx', ec='k', lw=1)
t(693, 705, 'Trunk1_Lichtenberg2018', 13.5)
t(693, 726, 'Trunk2_Lichtenberg2018', 13.5)
t(693, 747, 'Trunk_Krentz2018', 13.5)
gsea_inset(863, 441, 1038, 677, C_DAY[3], 'Enrichment: Trunk2', None, 876, 885, 33, '0.013', 997, e_rank, e_es,
           (-0.24, 0.508), [.5, .4, .3, .2, .1, 0, -.1, -.2], e_hits, 7500, 'Zero cross at 7807', (-5.3, 7.5), [6, 4, 2, 0, -2, -4])
arrows(677, 872, 953, 1034, 'd20', 917, 992)

zone(0, 1.23)
panel_letter(39, 800, 'F')
t(68, 812, 'GSEA: Duct enrichment', 13.2, fontweight='bold')
bar_panel((82, 832, 224, 1004), 6, [0, 2, 4, 6], [101.5, 129.5, 177, 205.5], 19, f_vals,
          [C_ORANGE, C_ORANGE, C_PRIM, C_PRIM], ['|||', None, '|||', None], [3, 2, 1.3], STARS3, 238)
ylabel(52, 918)
line([90, 141], [1010, 1010])
line([165, 217], [1010, 1010])
rotated(99, 1035, 'PDLO')
rotated(180, 1045, 'Primary\norganoid')
square(79, 1086, 91, 1100, 'white', hatch='|||', ec='k', lw=1)
square(79, 1107, 91, 1121, 'white', ec='k', lw=1)
t(94, 1093, 'Ductal_Enge2017', 13.5)
t(94, 1114, 'Ductal_Baron2016', 13.5)
gsea_inset(259, 805, 453, 1042, C_ORANGE, 'Enrichment: Ductal_Enge2017', '|||', 272, 283, 33, '0.001', 407, f_rank, f_es,
           (-0.05, 0.527), [.5, .4, .3, .2, .1, 0], f_hits, 7000, 'Zero cross at 8023', (-7.2, 8.5), [5, 0, -5])
arrows(1042, 269, 359, 448, 'PDLO', 318, 402)

zone(640, 1.359)
panel_letter(657, 800, 'G')
t(683, 812, 'GSEA: Subpopulation', 13.2, fontweight='bold')
bar_panel((689, 832, 818, 1006), 6, [0, 2, 4, 6], [706.5, 735, 775, 801], 18, g_vals,
          [C_ORANGE, C_ORANGE, C_PRIM, C_PRIM], ['|||', None, '|||', None], [3, 2, 1.3], STARS3, 832)
ylabel(659, 920)
line([698, 743], [1011, 1011])
line([764, 811], [1011, 1011])
rotated(706, 1036, 'PDLO')
rotated(778, 1046, 'Primary\norganoid')
square(669, 1087, 680, 1101, 'white', hatch='|||', ec='k', lw=1)
square(669, 1108, 680, 1122, 'white', ec='k', lw=1)
for y, it, rest in [(1094, 'MUC1', '-subpop_Baron2016'), (1115, 'CFTR', '-subpop_Baron2016')]:
    tx = t(682, y, it, 13.5, style='italic')
    ov.annotate(rest, xy=(1, 0), xycoords=tx, fontsize=13.5, va='bottom', ha='left')
gsea_inset(863, 805, 1038, 1042, C_ORANGE, 'Enrichment: MUC1 subpop.', '|||', 874, 884, 33, '0.000', 997, g_rank, g_es,
           (-0.01, 0.735), [.7, .6, .5, .4, .3, .2, .1, 0], g_hits, 7000, 'Zero cross at 8023', (-7.2, 8.5), [5, 0, -5])
arrows(1042, 872, 953, 1034, 'PDLO', 916, 992)

# ---- H
zone(0, 1.134)
panel_letter(26, 1257, 'H')
protein = Ellipse((fx(136), 1349), 91 * zone_f, 103, fc='#2E8B3E', ec='none')
overlap = Ellipse((fx(136), 1349), 91 * zone_f, 103, fc='#6FBF6F', ec='none')
big = Ellipse((fx(103.5), 1347), 137 * zone_f, 158, fc='none', ec='k', lw=1.2)
ov.add_patch(protein)
ov.add_patch(overlap)
ov.add_patch(big)
overlap.set_clip_path(big)
ov.add_patch(Ellipse((fx(136), 1349), 91 * zone_f, 103, fc='none', ec='k', lw=1.2))
t(20, 1304, 'RNA', 13, ha='center', style='italic')
t(198, 1304, 'Protein', 13.4, ha='center', color='#1E9A3E')
t(69, 1347, '8771', 13, ha='center')
t(139, 1347, '5779', 13, ha='center')
t(198, 1347, '387', 13, ha='center')
t(77, 1387, 'NKX6-1', 10, ha='center', style='italic')
t(87, 1400, 'CLDN1', 10, ha='center', style='italic')
t(103, 1414, 'CFTR', 10, ha='center', style='italic')

# ---- I
panel_letter(250, 1200, 'I')
ax = axpx(289, 1239, 474, 1437)
ax.axhline(0, color='#DDDDDD', lw=0.8)
ax.axvline(0, color='#DDDDDD', lw=0.8)
ax.scatter(blob_x, blob_y, s=42, c='k', lw=0, zorder=2)
ax.scatter(sparse_x, sparse_y, s=2.5, c='#222222', lw=0, zorder=2)
ax.plot([-8.6, 8.6], [-8.6, 8.6], color='#C8646A', lw=1.0, zorder=3)
ax.plot(fit_x, fit_y, color='#7F9FC2', lw=1.0, zorder=1)
ax.set_xlim(-8.6, 8.6)
ax.set_ylim(-8.6, 8.6)
ax.set_xticks([-5, 0, 5])
ax.set_yticks([-5, 0, 5])
ax.tick_params(length=0, labelsize=14, pad=4)
plt.setp(ax.get_yticklabels(), rotation=90, va='center')
for s in ('top', 'right'):
    ax.spines[s].set_visible(False)
for s in ('left', 'bottom'):
    ax.spines[s].set_color('#CCCCCC')
t(332, 1264, 'R = 0.75', 13.6, ha='center')
t(382, 1468, 'RNA log2 FC PDLO/PP', 13.9, ha='center')
t(261, 1340, 'Protein log2 FC PDLO/PP', 13.5, ha='center', rotation=90)
top = axpx(289, 1201, 474, 1238)
top.bar(top_bins, top_counts, width=0.35, color='#444444')
top.set_xlim(-8.6, 8.6)
top.set_ylim(0, 102)
top.set_xticks([])
top.set_yticks([])
for s in ('top', 'left', 'right'):
    top.spines[s].set_visible(False)
top.spines['bottom'].set_color('#BBBBBB')
right = axpx(477, 1239, 512, 1437)
right.barh(right_bins, right_counts, height=0.28, color='#444444')
right.set_ylim(-8.6, 8.6)
right.set_xlim(0, 102)
right.set_xticks([])
right.set_yticks([])
for s in ('top', 'bottom', 'right'):
    right.spines[s].set_visible(False)
right.spines['left'].set_color('#BBBBBB')

# ---- J
zone(590, 1.455)
panel_letter(603, 1197, 'J')
ax = axpx(641, 1205, 835, 1436)
ax.scatter(gray_x, gray_y, s=26, c='#BDBDBD', lw=0, zorder=1)
ax.scatter(red_x, red_y, s=8, c='#E8262A', lw=0, zorder=2)
ax.scatter(lab_x, lab_y, s=12, facecolors='none', edgecolors='#444444', lw=0.7, zorder=3)
ax.set_xlim(-4.95, 7.05)
ax.set_ylim(-0.37, 10.75)
ax.set_xticks([-4, -2, 0, 2, 4, 6])
ax.set_yticks([0, 2, 4, 6, 8, 10])
ax.tick_params(length=0, labelsize=13.5, pad=3)
for s in ('top', 'right'):
    ax.spines[s].set_visible(False)
for s in ('left', 'bottom'):
    ax.spines[s].set_linewidth(1.5)
t(614, 1325, '-log10 (p-value)', 12.7, ha='center', rotation=90)
t(738, 1472, 'log2 FC PDLO/PP', 13.2, ha='center')
for x, y, s, ha in [(803, 1227, 'TFF2', 'left'), (733, 1246, 'MUC13', 'left'), (778, 1246, 'ANXA1', 'left'),
                    (818, 1254, 'MMP1', 'left'), (765, 1271, 'CA4', 'left'), (785, 1284, 'MUC1', 'left'),
                    (709, 1306, 'CLDN3', 'left'), (745, 1315, 'CA2', 'left'), (742, 1330, 'KRT7', 'left'),
                    (700, 1329, 'KRT8', 'left'), (734, 1347, 'KRT19', 'left'), (732, 1361, 'KRT18', 'left'),
                    (764, 1374, 'TFF1', 'left'), (729, 1385, 'HNF1B', 'left'), (728, 1401, 'ANXA2', 'left'),
                    (716, 1416, 'PROX1', 'right'), (717, 1429, 'PDX1', 'right'), (702, 1341, 'SOX9', 'right')]:
    t(x, y, s, 12.5, ha=ha)
line([753, 764], [1253, 1277], color='#333333', lw=0.6)
line([729, 730], [1313, 1361], color='#333333', lw=0.6)
line([715, 730], [1337, 1360], color='#333333', lw=0.6)

# ---- K
panel_letter(874, 1163, 'K')
greens = plt.get_cmap('Greens', 15)
heat((888, 1182, 1058, 1516), k_matrix, greens, -1.77, 1.82, edge='#555555', lw=0.7)
t(931, 1163, 'PP', 13, ha='center')
t(1016, 1163, 'PDLO', 13, ha='center')
line([891, 971], [1177, 1177])
line([976, 1056], [1177, 1177])
for i, (g, s) in enumerate(zip(k_genes, k_sig)):
    y = 1182 + 18.55 * (i + .5)
    t(1063, y, g, 12)
    if s == 'ns':
        t(874, y - 1, s, 12, ha='center')
    else:
        t(874, y + 2, s, 14, ha='center')

# ---- L
zone(0, 1.0)
panel_letter(26, 1558, 'L')
heat((47, 1578, 293, 1911), l_matrix, greens, -1.77, 1.82, edge='#666666', lw=0.5)
t(108, 1559, 'PP', 13.4, ha='center')
t(232, 1559, 'PDLO', 13.4, ha='center')
line([51, 167], [1573, 1573])
line([174, 290], [1573, 1573])
for s0, s1 in [(1581, 1769), (1777, 1783), (1789, 1820), (1826, 1908)]:
    line([40, 40], [s0, s1])
t(27, 1673, 'Oxidative phos. com. I', 13, ha='center', rotation=90)
t(27, 1779, 'II', 13, ha='center', rotation=90)
t(27, 1800, 'III', 13, ha='center', rotation=90)
t(27, 1864, 'IV', 13, ha='center', rotation=90)
for s0, s1 in [(1580, 1769), (1773, 1783), (1787, 1821), (1825, 1908)]:
    brace(298, s0, s1, w=9)
for y, s in [(1647, 'NDUFS1'), (1667, 'NDUFV1'), (1687, 'NDUFA2'), (1706, 'NDUFB1'), (1777, 'SDHA'), (1802, 'UQCRC1'),
             (1855, 'COX5A'), (1875, 'COA7')]:
    t(314, y, s, 11.8)

# ---- M
zone(440, 1.743)
panel_letter(455, 1583, 'M')
t(592, 1587, 'Enriched protein set in PDLO', 13, ha='center', fontweight='bold')
ax = axpx(592, 1613, 684, 1771)
ax.vlines([2, 3], -0.68, 6.66, color='k', lw=0.9, linestyles=(0, (4, 2)), zorder=1)
ax.barh(range(len(m_terms)), m_vals, height=0.62, color=[m_source_colors[i] for i in m_term_source],
        edgecolor='k', linewidth=1.4, zorder=2)
ax.set_ylim(6.66, -0.68)
ax.set_xlim(0, 25)
ax.set_yticks(range(len(m_terms)))
ax.set_yticklabels(m_terms, fontsize=13.8)
ax.set_xticks([0, 5, 10, 15, 20, 25])
ax.tick_params(axis='x', labelsize=13.5, length=4, width=1.2, pad=3)
ax.tick_params(axis='y', length=3, width=1.2, pad=5)
for s in ('top', 'right'):
    ax.spines[s].set_visible(False)
for s in ('left', 'bottom'):
    ax.spines[s].set_linewidth(1.4)
t(603, 1601, '***', 10, ha='center')
t(600, 1610, '**', 10, ha='center')
t(637, 1810, '-log10 (FDR)', 13.2, ha='center')
for name, col, y in zip(m_sources, m_source_colors, [1812, 1834, 1856, 1878]):
    square(468, y - 6, 476, y + 7, col, ec='k', lw=1.2)
    t(484, y + 1, name, 13.5)

# ---- N
panel_letter(716, 1560, 'N')
heat((726, 1582, 868, 1917), n_matrix, greens, -1.77, 1.82, edge='#555555', lw=0.7)
t(762, 1563, 'PP', 13.5, ha='center')
t(832, 1563, 'PDLO', 13.5, ha='center')
line([728, 794], [1577, 1577])
line([799, 866], [1577, 1577])
line([722, 722], [1582, 1917])
t(713, 1742, 'Pancreatic secretion', 13.2, ha='center', rotation=90)
for s0, s1 in [(1587, 1730), (1742, 1783), (1792, 1910)]:
    brace(872, s0, s1, w=5)
for y, s in [(1610, 'ATP1A1'), (1630, 'CA2'), (1650, 'ITPR2/3'), (1669, 'PRKCA'), (1689, 'RAB11A'), (1709, 'SLC12A2'),
             (1753, 'GNAS'), (1773, 'RHOA'), (1812, 'ATP1B3'), (1832, 'RAP1A/B'), (1851, 'PRSS2'), (1871, 'GNAQ'), (1891, 'RAC1')]:
    t(879, y, s, 12)
t(932, 1569, 'Z-score', 13.6, ha='center')
colorbar((926, 1582, 933, 1737), greens, -1.77, 1.82, [1.5, 1, .5, 0, -.5, -1, -1.5],
         ['1.5', '1.0', '0.5', '0.0', '\u22120.5', '\u22121.0', '\u22121.5'], size=13)

fig.savefig('out.png', dpi=100)
